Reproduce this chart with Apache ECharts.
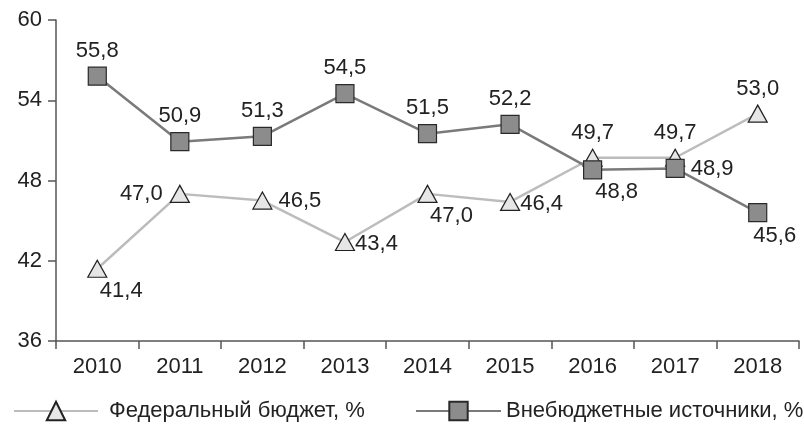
<!DOCTYPE html>
<html><head><meta charset="utf-8">
<script src="https://cdn.jsdelivr.net/npm/echarts@6/dist/echarts.min.js"></script>
<style>html,body{margin:0;padding:0;background:#fff}#c{width:804px;height:425px}</style>
</head><body><div id="c"></div>
<script>
const years = ['2010','2011','2012','2013','2014','2015','2016','2017','2018'];
const federal = [41.4, 47.0, 46.5, 43.4, 47.0, 46.4, 49.7, 49.7, 53.0];
const offBudget = [55.8, 50.9, 51.3, 54.5, 51.5, 52.2, 48.8, 48.9, 45.6];
const seriesNames = ['Федеральный бюджет, %', 'Внебюджетные источники, %'];
const yTicks = {min: 36, max: 60, step: 6};

// label placement keys (layout only)
const fedLabelPlace = ['br','left','right','rightTight','br','rightTight','top','top','top'];
const offLabelPlace = ['top','top','top','top','top','top','br','right','bottom'];

const FONT = 'Liberation Sans, Arial, Helvetica, sans-serif';
const TXT = '#222';
const FS = 22;
function placeLabel(key){
  switch(key){
    case 'br': return {position:'bottom', offset:[24,0], distance:2};
    case 'left': return {position:'left', distance:7};
    case 'right': return {position:'right', distance:6};
    case 'rightTight': return {position:'right', distance:0, offset:[0,2]};
    case 'bottom': return {position:'bottom', offset:[17,0], distance:3};
    default: return {position:'top', distance:5};
  }
}
function fmt(v){ return v.toFixed(1).replace('.', ','); }
function build(vals, places){
  return vals.map((v,i)=>({value:v, label:Object.assign({show:true, formatter:fmt(v), color:TXT, fontSize:FS, fontFamily:FONT}, placeLabel(places[i]))}));
}

const chart = echarts.init(document.getElementById('c'), null, {renderer:'canvas'});
chart.setOption({
  animation:false,
  backgroundColor:'#fff',
  grid:{left:56, right:5, top:20, bottom:84, containLabel:false},
  xAxis:{type:'category', data:years, boundaryGap:true,
    axisLine:{lineStyle:{color:'#555', width:1.5}},
    axisTick:{show:true, length:8, lineStyle:{color:'#555', width:1.5}},
    axisLabel:{color:TXT, fontSize:FS, fontFamily:FONT, margin:15}},
  yAxis:{type:'value', min:yTicks.min, max:yTicks.max, interval:yTicks.step,
    axisLine:{show:true, lineStyle:{color:'#555', width:1.5}},
    axisTick:{show:true, length:8, lineStyle:{color:'#555', width:1.5}},
    splitLine:{show:false},
    axisLabel:{color:TXT, fontSize:FS, fontFamily:FONT, margin:14}},
  legend:[
    {data:[seriesNames[0]], left:8, top:395, itemWidth:84, itemHeight:23, itemGap:0,
     textStyle:{color:TXT, fontSize:FS, fontFamily:FONT, padding:[0,0,0,6]}},
    {data:[seriesNames[1]], left:410, top:395, itemWidth:85, itemHeight:23, itemGap:0,
     textStyle:{color:TXT, fontSize:FS, fontFamily:FONT}}
  ],
  series:[
    {name:seriesNames[0], type:'line', data:build(federal, fedLabelPlace),
     symbol:'triangle', symbolSize:[19,17],
     lineStyle:{color:'#bcbcbc', width:2.5},
     itemStyle:{color:'#e6e6e6', borderColor:'#222', borderWidth:1.2}},
    {name:seriesNames[1], type:'line', data:build(offBudget, offLabelPlace),
     symbol:'rect', symbolSize:18,
     lineStyle:{color:'#7a7a7a', width:2.5},
     itemStyle:{color:'#8c8c8c', borderColor:'#2a2a2a', borderWidth:1.2}}
  ]
});
</script></body></html>
